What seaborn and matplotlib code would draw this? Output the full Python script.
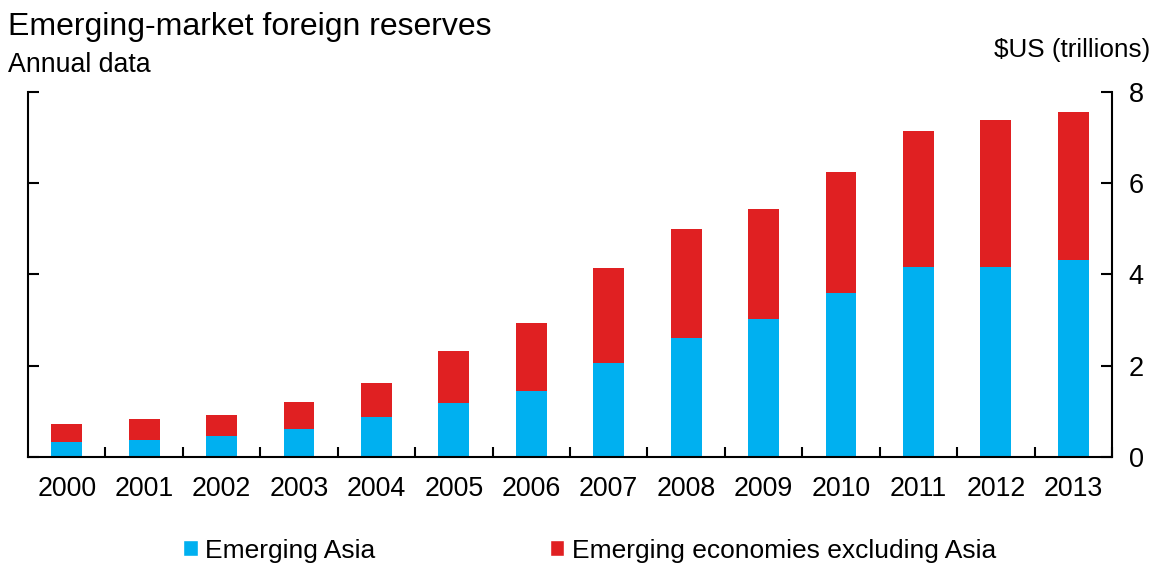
import pandas as pd
import seaborn as sns
import matplotlib.pyplot as plt
from matplotlib.patches import Patch

# data ($US trillions)
years = ["2000", "2001", "2002", "2003", "2004", "2005", "2006",
         "2007", "2008", "2009", "2010", "2011", "2012", "2013"]
asia = [0.32, 0.37, 0.46, 0.61, 0.88, 1.18, 1.44,
        2.06, 2.60, 3.03, 3.60, 4.16, 4.17, 4.32]
total = [0.73, 0.83, 0.93, 1.21, 1.62, 2.33, 2.93,
         4.14, 4.99, 5.43, 6.25, 7.14, 7.38, 7.56]
y_ticks = [0, 2, 4, 6, 8]

blue = "#00B0F0"
red = "#E02022"

df = pd.DataFrame({"year": years, "asia": asia, "total": total})

sns.set_style("white")
plt.rcParams['font.family'] = ['Liberation Sans', 'DejaVu Sans']
plt.rcParams['text.color'] = 'black'
plt.rcParams['xtick.color'] = 'black'
plt.rcParams['ytick.color'] = 'black'

fig = plt.figure(figsize=(11.61, 5.66), dpi=100)
ax = fig.add_axes([0.0241, 0.1926, 0.9337, 0.6449])

# stacked bars: draw total in red, Asia in blue on top
sns.barplot(data=df, x="year", y="total", color=red, width=0.4,
            saturation=1, linewidth=0, ax=ax)
sns.barplot(data=df, x="year", y="asia", color=blue, width=0.4,
            saturation=1, linewidth=0, ax=ax)

ax.set_xlim(-0.5, len(years) - 0.5)
ax.set_ylim(0, 8)
ax.set_xlabel("")
ax.set_ylabel("")

# y axis labels on the right, ticks on both sides pointing in
ax.set_yticks(y_ticks)
ax.yaxis.tick_right()
ax.tick_params(axis="y", which="both", left=True, right=True, direction="in",
               length=8, width=1.5, labelsize=19.5, pad=12)

# x ticks between categories, labels at category centres
ax.set_xticks(range(len(years)))
ax.set_xticklabels(years)
ax.tick_params(axis="x", which="major", length=0, labelsize=19.3, pad=14)
ax.set_xticks([i + 0.5 for i in range(len(years))], minor=True)
ax.tick_params(axis="x", which="minor", direction="in", length=7, width=1.5,
               bottom=True)

ax.spines["top"].set_visible(False)
for s in ["left", "right", "bottom"]:
    ax.spines[s].set_visible(True)
    ax.spines[s].set_linewidth(1.5)
    ax.spines[s].set_color("black")
ax.spines["left"].set_bounds(0, 8)
ax.spines["right"].set_bounds(0, 8)

fig.text(0.007, 0.978, "Emerging-market foreign reserves", fontsize=23,
         va="top", ha="left")
fig.text(0.007, 0.908, "Annual data", fontsize=19.3, va="top", ha="left")
fig.text(0.991, 0.932, "$US (trillions)", fontsize=18.8, va="top", ha="right")

handles = [Patch(facecolor=blue, label="Emerging Asia"),
           Patch(facecolor=red, label="Emerging economies excluding Asia")]
fig.legend(handles=handles, loc="center", bbox_to_anchor=(0.508, 0.027),
           ncol=2, frameon=False, fontsize=19, handlelength=0.55,
           handleheight=0.55, handletextpad=0.3, columnspacing=6.6)

fig.savefig("out.png", dpi=100)
